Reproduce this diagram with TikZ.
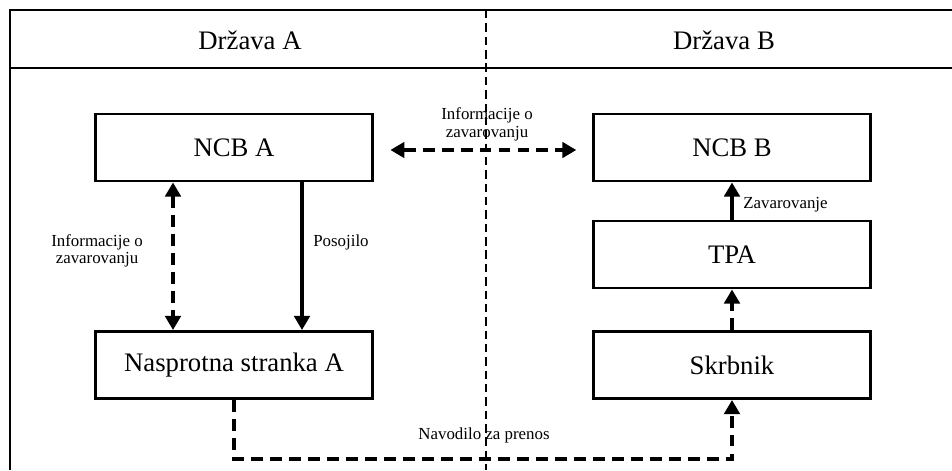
\documentclass[tikz,border=0pt]{standalone}
\usepackage{fontspec}
\setmainfont{Liberation Serif}
\usetikzlibrary{arrows.meta,calc}
\begin{document}
\begin{tikzpicture}[x=0.025cm,y=-0.025cm,
  frameline/.style={line width=2.1pt},
  divider/.style={line width=1.9pt,dash pattern=on 6pt off 3.5pt},
  box/.style={draw,line width=2.1pt,minimum width=6.9cm,minimum height=1.675cm,inner sep=0pt,font=\fontsize{19}{23}\selectfont},
  hdr/.style={inner sep=0pt,font=\fontsize{19}{23}\selectfont},
  lbl/.style={font=\fontsize{12}{12.5}\selectfont,align=center,inner sep=0pt},
  tip/.tip={Triangle[length=10pt,width=11pt]},
  conn/.style={line width=2.4pt,-tip},
  dconn/.style={conn,dash pattern=on 8.5pt off 5pt}]
\useasboundingbox (0,0) rectangle (952,470);
% frame
\coordinate (tl) at (10,10);
\coordinate (tr) at (952,10);
\coordinate (hl) at (10,68);
\coordinate (hr) at (952,68);
\coordinate (bl) at (10,470);
\coordinate (dt) at (486,10);
\coordinate (db) at (486,470);
\draw[frameline] (tr) -- (tl) -- (bl);
\draw[frameline] (hl) -- (hr);
\draw[divider] (dt) -- (db);
\node[hdr] (ha) at (250,40) {Država A};
\node[hdr] (hb) at (724,40) {Država B};
% boxes
\node[box] (ncba) at (234,147.5) {NCB A};
\node[box] (ncbb) at (732,147.5) {NCB B};
\node[box] (tpa) at (732,254.5) {TPA};
\node[box] (skrb) at (732,365) {Skrbnik};
\node[box] (nasp) at (234,365) {Nasprotna stranka A};
% connectors
\draw[dconn,tip-tip,shorten <=12pt,shorten >=11.5pt]
  ($(ncba.east)+(0,2.5)$) -- ($(ncbb.west)+(0,2.5)$);
\node[lbl] (l1) at (487,124.5) {Informacije o\\zavarovanju};
\draw[dconn,tip-tip]
  ($(ncba.south)+(-61,0)$) -- ($(nasp.north)+(-61,0)$);
\node[lbl] (l2) at (97,251) {Informacije o\\zavarovanju};
\draw[conn] ($(ncba.south)+(68,0)$) -- ($(nasp.north)+(68,0)$);
\node[lbl] (l3) at (341,242) {Posojilo};
\draw[conn] (tpa.north) -- (ncbb.south);
\node[lbl,anchor=west] (l4) at (743,205) {Zavarovanje};
\draw[dconn] (skrb.north) -- (tpa.south);
\draw[dconn] (nasp.south) -- ++(0,59) -| (skrb.south);
\node[lbl] (l5) at (484,435) {Navodilo za prenos};
\end{tikzpicture}
\end{document}
